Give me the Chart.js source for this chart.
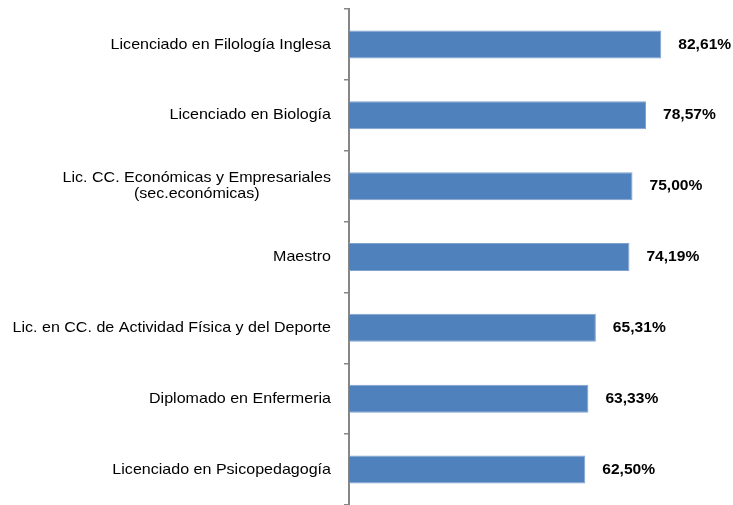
<!DOCTYPE html>
<html><head><meta charset="utf-8">
<script src="https://cdn.jsdelivr.net/npm/chart.js@4"></script>
<style>html,body{margin:0;padding:0;background:#fff}#wrap{width:733px;height:505px}</style>
</head><body><div id="wrap"><canvas id="c"></canvas></div>
<script>
const categories = [
  ["Licenciado en Filología Inglesa"],
  ["Licenciado en Biología"],
  ["Lic. CC. Económicas y Empresariales", "(sec.económicas)"],
  ["Maestro"],
  ["Lic. en CC. de Actividad Física y del Deporte"],
  ["Diplomado en Enfermeria"],
  ["Licenciado en Psicopedagogía"]
];
const values = [82.61, 78.57, 75.00, 74.19, 65.31, 63.33, 62.50];
const valueLabels = ["82,61%", "78,57%", "75,00%", "74,19%", "65,31%", "63,33%", "62,50%"];

function drawStretched(ctx, text, x, y, sx) {
  ctx.save();
  ctx.translate(x, y);
  ctx.scale(sx, 1);
  ctx.fillText(text, 0, 0);
  ctx.restore();
}

const labelPlugin = {
  id: 'customLabels',
  afterDraw(chart) {
    const ctx = chart.ctx;
    const y = chart.scales.y;
    const meta = chart.getDatasetMeta(0);
    ctx.save();
    ctx.fillStyle = '#000';
    ctx.textBaseline = 'middle';
    const sx = 1.07;
    ctx.font = '15px "Liberation Sans", Arial, sans-serif';
    categories.forEach((lines, i) => {
      const cy = y.getPixelForValue(i);
      let w = 0;
      lines.forEach(l => { w = Math.max(w, ctx.measureText(l).width * sx); });
      const cx = 331 - w / 2;
      const lh = 16;
      ctx.textAlign = 'center';
      lines.forEach((l, k) => {
        drawStretched(ctx, l, cx, cy + (k - (lines.length - 1) / 2) * lh, sx);
      });
    });
    ctx.font = 'bold 15px "Liberation Sans", Arial, sans-serif';
    ctx.textAlign = 'left';
    meta.data.forEach((bar, i) => {
      drawStretched(ctx, valueLabels[i], bar.x + 17, bar.y, 1.04);
    });
    ctx.restore();
  }
};

new Chart(document.getElementById('c'), {
  type: 'bar',
  data: {
    labels: categories.map(c => c.join(' ')),
    datasets: [{
      data: values,
      backgroundColor: '#4F81BD',
      borderColor: '#7FA3D0',
      borderWidth: 1,
      categoryPercentage: 1,
      barPercentage: 0.395
    }]
  },
  options: {
    indexAxis: 'y',
    responsive: true,
    maintainAspectRatio: false,
    animation: false,
    events: [],
    layout: { padding: { top: 9, right: 6, bottom: 0, left: 0 } },
    plugins: { legend: { display: false }, tooltip: { enabled: false } },
    scales: {
      x: { display: false, min: 0, max: 100 },
      y: {
        offset: true,
        ticks: { display: false },
        border: { display: true, color: '#868686', width: 2 },
        grid: { display: true, drawOnChartArea: false, drawTicks: true, tickLength: 5, color: '#868686', offset: true, lineWidth: 1.5 },
        afterFit(scale) { scale.width = 349; }
      }
    }
  },
  plugins: [labelPlugin]
});
</script>
</body></html>
